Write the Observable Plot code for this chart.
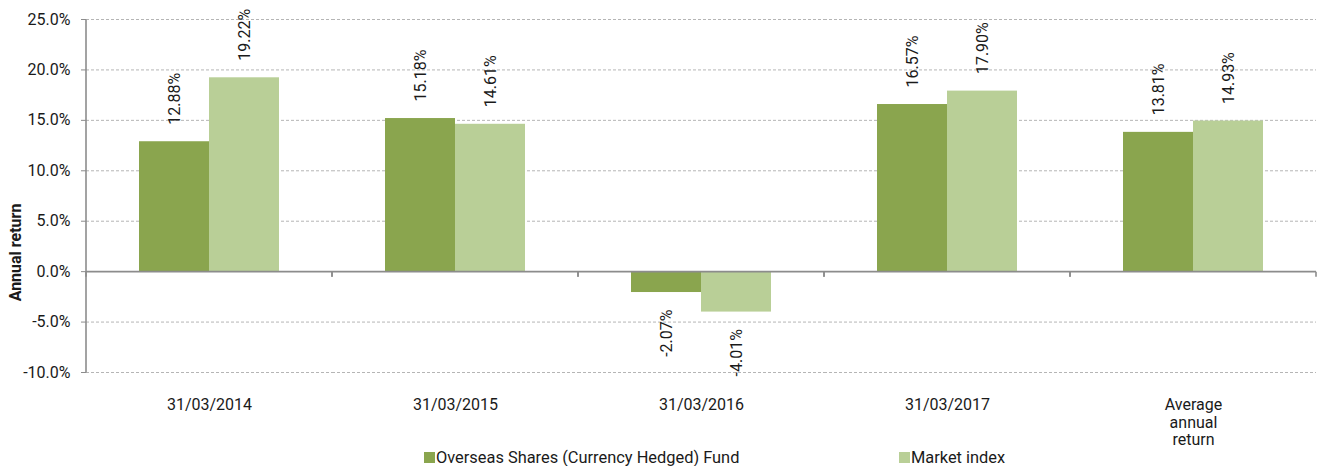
<!DOCTYPE html>
<html><head><meta charset="utf-8">
<script src="https://cdn.jsdelivr.net/npm/d3@7"></script>
<script src="https://cdn.jsdelivr.net/npm/@observablehq/plot@0.6"></script>
<style>
body{margin:0;background:#fff;font-family:Roboto,sans-serif;}
#chart svg{display:block;}
#legend{position:relative;margin-top:-2px;height:18px;font-size:16.4px;color:#1a1a1a;}
#legend .item{position:absolute;top:0;display:flex;align-items:center;height:18px;white-space:nowrap;}
#legend .sw{width:11px;height:11px;margin-right:1px;display:inline-block;}
</style></head><body><div id="chart"></div><div id="legend"></div>
<script>
const categories = ["31/03/2014","31/03/2015","31/03/2016","31/03/2017","Average annual return"];
const categoryLabels = ["31/03/2014","31/03/2015","31/03/2016","31/03/2017","Average\nannual\nreturn"];
const seriesNames = ["Overseas Shares (Currency Hedged) Fund","Market index"];
const fundValues = [12.88,15.18,-2.07,16.57,13.81];
const indexValues = [19.22,14.61,-4.01,17.90,14.93];
const yTicks = [-10,-5,0,5,10,15,20,25];
const colors = ["#8aa54e","#b9cf97"];

const rows = categories.flatMap((c,i)=>[
  {category:c, series:seriesNames[0], value:fundValues[i]},
  {category:c, series:seriesNames[1], value:indexValues[i]}
]);
const axisGray = "#8c8c8c";
const textColor = "#1a1a1a";
const yMin = d3.min(yTicks), yMax = d3.max(yTicks);

const chart = Plot.plot({
  width:1317, height:450, marginLeft:86, marginRight:1, marginTop:19, marginBottom:78,
  style:{fontFamily:"Roboto", fontSize:"16px", color:textColor, background:"#fff"},
  fx:{domain:categories, padding:0, label:null},
  x:{domain:seriesNames, paddingInner:0, paddingOuter:0.757, axis:null},
  y:{domain:[yMin, yMax], axis:null},
  color:{domain:seriesNames, range:colors},
  marks:[
    Plot.ruleY(yTicks.filter(d=>d!==0), {stroke:"#b5b5b5", strokeDasharray:"3,2"}),
    Plot.barY(rows, {fx:"category", x:"series", y:"value", fill:"series"}),
    Plot.ruleY([0], {stroke:axisGray, strokeWidth:1.6,
      render(index, scales, values, dimensions, context, next) {
        const g = next(index, scales, values, dimensions, context);
        const y0 = scales.y(0);
        const left = dimensions.marginLeft, right = dimensions.width - dimensions.marginRight;
        const sel = d3.select(g);
        for (const x of [left, right]) {
          sel.append("line").attr("x1", x).attr("x2", x).attr("y1", y0).attr("y2", y0 + 5)
            .attr("stroke", axisGray).attr("stroke-width", 1.6);
        }
        return g;
      }}),
    Plot.ruleY([{category: categories[0], v: 0}], {fx:"category", y:"v", stroke:"none",
      render(index, scales, values, dimensions, context, next) {
        const g = next(index, scales, values, dimensions, context);
        const left = dimensions.marginLeft;
        d3.select(g).append("line").attr("x1", left).attr("x2", left)
          .attr("y1", scales.y(yMax)).attr("y2", scales.y(yMin))
          .attr("stroke", axisGray).attr("stroke-width", 1.6);
        return g;
      }}),
    Plot.axisY(yTicks, {tickFormat: d=>d.toFixed(1)+"%", tickSize:5, tickPadding:11, stroke:axisGray, label:null, fontSize:16}),
    Plot.axisFx({anchor:"bottom", tickSize:0, tickPadding:25, tickFormat: d=>categoryLabels[categories.indexOf(d)], lineHeight:1.1, label:null, fontSize:16}),
    Plot.text(rows.filter(d=>d.value>=0), {fx:"category", x:"series", y:"value", text: d=>d.value.toFixed(2)+"%", rotate:-90, textAnchor:"start", dy:-17, fontSize:16, fill:textColor}),
    Plot.text(rows.filter(d=>d.value<0), {fx:"category", x:"series", y:"value", text: d=>d.value.toFixed(2)+"%", rotate:-90, textAnchor:"end", dy:17, fontSize:16, fill:textColor}),
    Plot.text([{category: categories[0], label: "Annual return"}], {fx:"category", text:"label", frameAnchor:"left", textAnchor:"middle", rotate:-90, dx:-70.5, dy:56.5, fontWeight:"bold", fontSize:16, fill:textColor})
  ]
});
document.getElementById("chart").appendChild(chart);

const legendLefts = [424, 899];
const legend = document.getElementById("legend");
seriesNames.forEach((name, i) => {
  const item = document.createElement("div");
  item.className = "item";
  item.style.left = legendLefts[i] + "px";
  const sw = document.createElement("span");
  sw.className = "sw";
  sw.style.background = colors[i];
  item.appendChild(sw);
  item.appendChild(document.createTextNode(name));
  legend.appendChild(item);
});
</script>
</body></html>
